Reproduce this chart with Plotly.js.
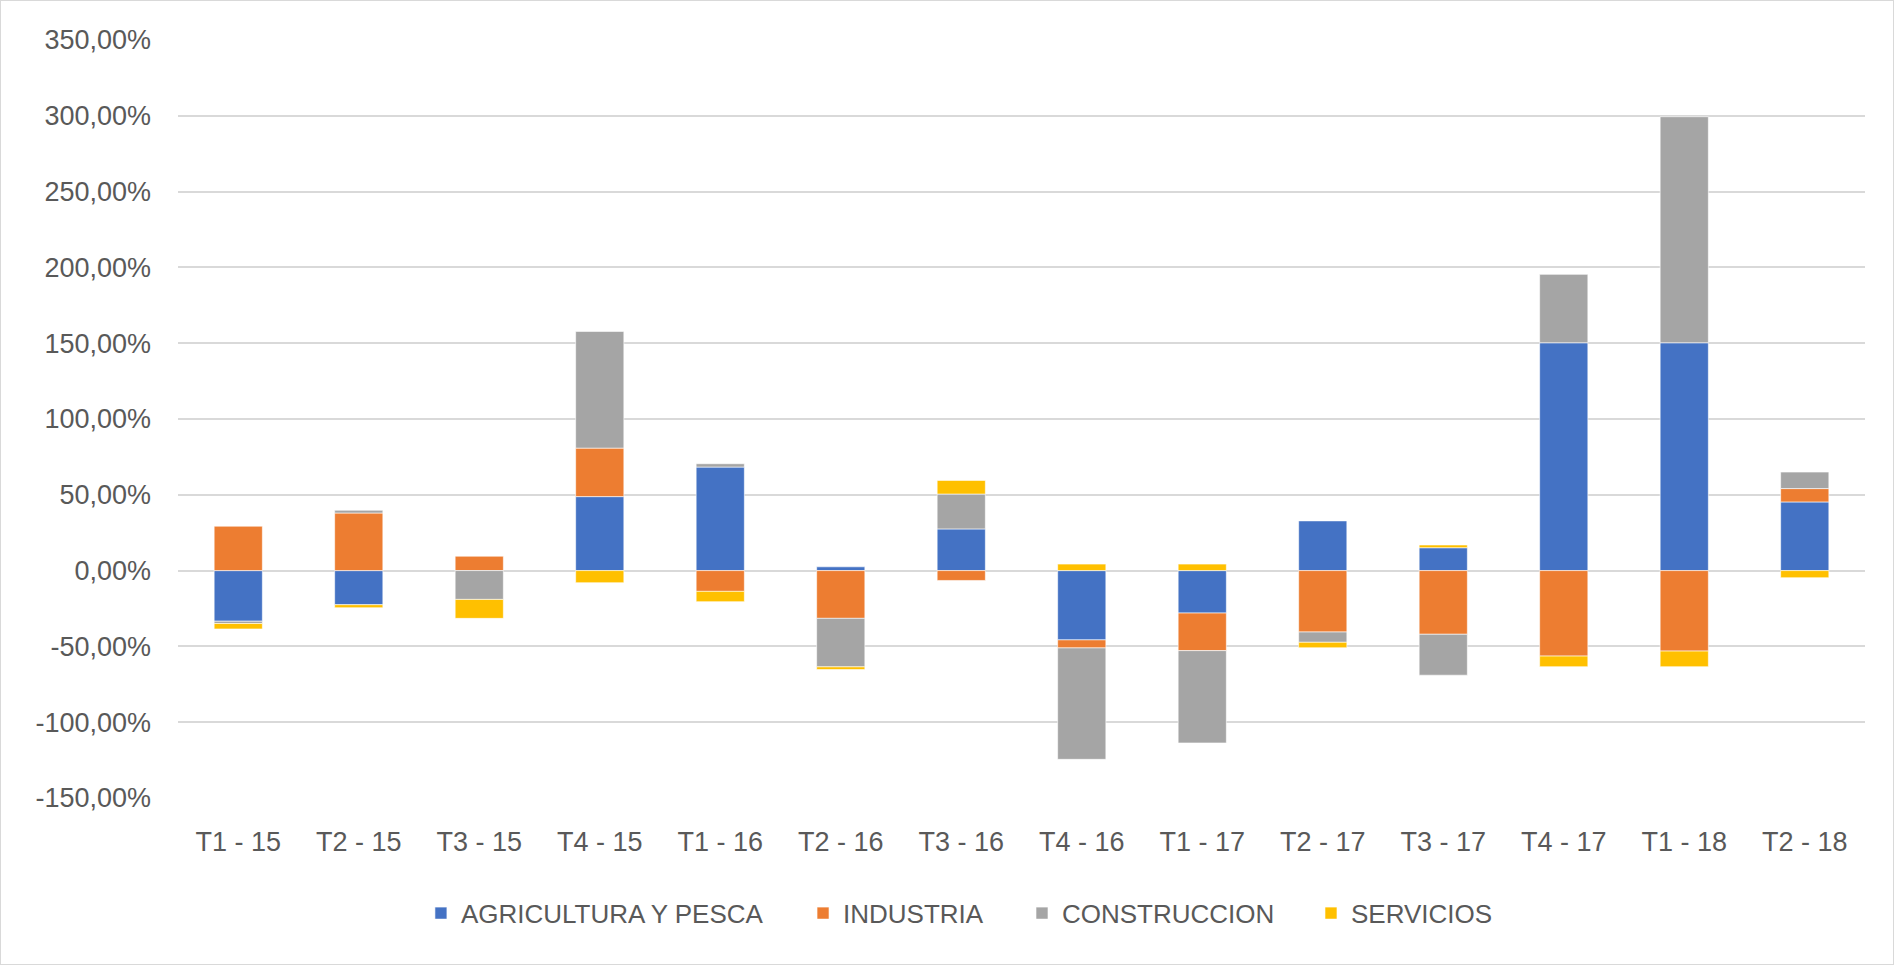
<!DOCTYPE html>
<html>
<head>
<meta charset="utf-8">
<script src="https://cdn.plot.ly/plotly-3.0.1.min.js"></script>
<style>
  html, body { margin: 0; padding: 0; background: #ffffff; }
  #chart { width: 1892px; height: 963px; border: 1px solid #d9d9d9; }
</style>
</head>
<body>
<div id="chart"></div>
<script>
const categories = ["T1 - 15", "T2 - 15", "T3 - 15", "T4 - 15", "T1 - 16", "T2 - 16", "T3 - 16",
                    "T4 - 16", "T1 - 17", "T2 - 17", "T3 - 17", "T4 - 17", "T1 - 18", "T2 - 18"];
const agricultura  = [-33.4, -22.5,   0.0,  48.8,  68.3,   2.5,  27.5, -45.7, -28.0,  32.8,  15.1, 150.3, 150.3,  45.3];
const industria    = [ 29.3,  38.0,   9.5,  32.0, -13.7, -31.5,  -6.5,  -5.3, -24.8, -40.5, -42.0, -56.4, -53.1,   8.8];
const construccion = [ -1.5,   1.8, -19.0,  77.0,   2.2, -32.0,  23.0, -73.5, -60.9,  -6.8, -27.0,  45.1, 149.1,  10.9];
const servicios    = [ -3.6,  -2.0, -12.5,  -8.0,  -6.8,  -1.8,   9.0,   4.3,   4.3,  -3.6,   1.8,  -7.0, -10.3,  -4.7];
const seriesNames  = ["AGRICULTURA Y PESCA", "INDUSTRIA", "CONSTRUCCION", "SERVICIOS"];
const seriesColors = ["#4472C4", "#ED7D31", "#A5A5A5", "#FFC000"];
const yTicks = [-150, -100, -50, 0, 50, 100, 150, 200, 250, 300, 350];
const yTickText = yTicks.map(v => v.toFixed(2).replace(".", ",") + "%");

const legendIds = ["legend", "legend2", "legend3", "legend4"];
const legendX = [0.1440, 0.3705, 0.5003, 0.6716];

const seriesData = [agricultura, industria, construccion, servicios];
const traces = seriesData.map((vals, i) => ({
  type: "bar",
  name: seriesNames[i],
  x: categories,
  y: vals,
  legend: legendIds[i],
  marker: { color: seriesColors[i], line: { color: "rgba(255,255,255,0.6)", width: 1 } },
  hovertemplate: "%{x}<br>%{y:.2f}%<extra>" + seriesNames[i] + "</extra>"
}));

const fontFam = "'Liberation Sans', Arial, sans-serif";
const layout = {
  width: 1892,
  height: 963,
  barmode: "relative",
  bargap: 0.6,
  paper_bgcolor: "#ffffff",
  plot_bgcolor: "#ffffff",
  margin: { l: 177, r: 28, t: 39, b: 166, pad: 0 },
  font: { family: fontFam, color: "#595959", size: 28 },
  xaxis: {
    type: "category",
    showgrid: false,
    showline: false,
    zeroline: false,
    ticks: "",
    ticklabelstandoff: 25,
    tickfont: { family: fontFam, size: 27, color: "#595959" }
  },
  yaxis: {
    range: [-150, 350],
    tickmode: "array",
    tickvals: yTicks,
    ticktext: yTickText,
    showgrid: true,
    gridcolor: "#d9d9d9",
    gridwidth: 2,
    zeroline: true,
    zerolinecolor: "#d9d9d9",
    zerolinewidth: 2,
    showline: false,
    ticks: "",
    ticklabelstandoff: 26,
    tickfont: { family: fontFam, size: 27, color: "#595959" }
  },
  showlegend: true
};

legendIds.forEach((id, i) => {
  layout[id] = {
    orientation: "h",
    xref: "paper",
    x: legendX[i],
    xanchor: "left",
    y: -0.152,
    yanchor: "middle",
    bgcolor: "rgba(0,0,0,0)",
    font: { family: fontFam, size: 26, color: "#595959" }
  };
});

Plotly.newPlot("chart", traces, layout, { displayModeBar: false, staticPlot: true });
</script>
</body>
</html>
